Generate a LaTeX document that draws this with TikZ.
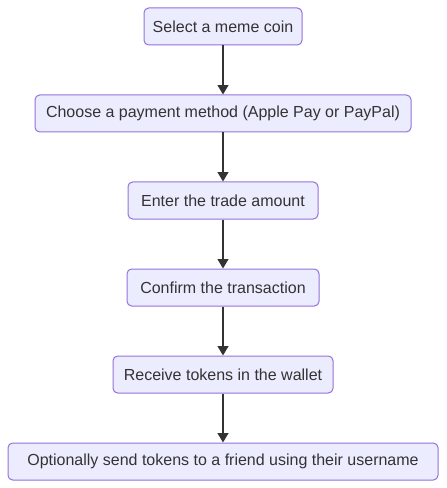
\documentclass[tikz,border=0pt]{standalone}
\usepackage{fontspec}
\setmainfont{Liberation Sans}
\usetikzlibrary{arrows.meta}
\definecolor{boxfill}{HTML}{ECECFF}
\definecolor{boxline}{HTML}{9370DB}
\definecolor{ink}{HTML}{333333}
\tikzset{
  stepbox/.style={draw=boxline, fill=boxfill, rounded corners=3.5pt, line width=0.75pt,
    text=ink, minimum height=27.75pt, inner sep=0pt, font=\fontsize{12}{14}\selectfont},
  flow/.style={draw=ink, line width=1.4pt, -{Triangle[length=7pt, width=8pt]}}
}
\begin{document}
\begin{tikzpicture}[x=0.75pt, y=-0.75pt]
    \useasboundingbox (0,0) rectangle (446,488);
    \node[stepbox, minimum width=118.5pt] (coin) at (223,26.5) {Select a meme coin};
    \node[stepbox, minimum width=282pt] (pay) at (223,113.5) {Choose a payment method (Apple Pay or PayPal)};
    \node[stepbox, minimum width=142.5pt] (amount) at (223,200.5) {Enter the trade amount};
    \node[stepbox, minimum width=144pt] (confirm) at (223,287.5) {Confirm the transaction};
    \node[stepbox, minimum width=165pt] (receive) at (223,374.5) {Receive tokens in the wallet};
    \node[stepbox, minimum width=322.5pt] (send) at (223,461.5) {Optionally send tokens to a friend using their username};
    \foreach \a/\b in {coin/pay, pay/amount, amount/confirm, confirm/receive, receive/send} { \draw[flow] (\a) -- (\b); }
  \end{tikzpicture}
\end{document}
